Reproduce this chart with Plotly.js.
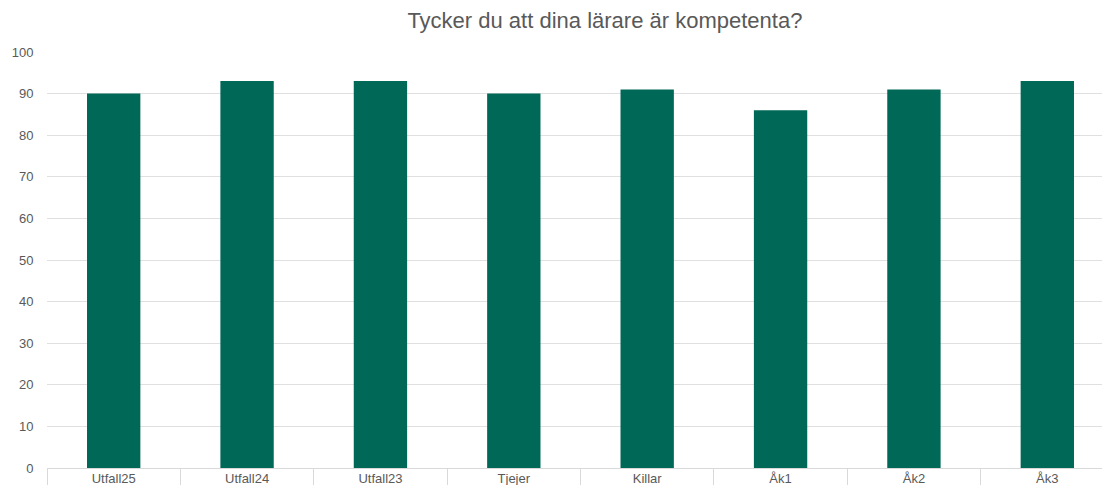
<!DOCTYPE html>
<html>
<head>
<meta charset="utf-8">
<script src="https://cdn.plot.ly/plotly-3.0.1.min.js"></script>
<style>html,body{margin:0;padding:0;background:#fff;overflow:hidden;}#chart{width:1114px;height:485px;}</style>
</head>
<body>
<div id="chart"></div>
<script>
const categories = ["Utfall25", "Utfall24", "Utfall23", "Tjejer", "Killar", "Åk1", "Åk2", "Åk3"];
const values = [90, 93, 93, 90, 91, 86, 91, 93];
const yTicks = [0, 10, 20, 30, 40, 50, 60, 70, 80, 90, 100];
const chartTitle = "Tycker du att dina lärare är kompetenta?";

const trace = {
  type: "bar",
  x: categories,
  y: values,
  marker: {color: "#006857"},
  hoverinfo: "x+y"
};

const layout = {
  width: 1114,
  height: 485,
  margin: {l: 47, r: 0, t: 52, b: 17},
  paper_bgcolor: "#ffffff",
  plot_bgcolor: "#ffffff",
  bargap: 0.6,
  showlegend: false,
  font: {family: "Liberation Sans, Arial, sans-serif", color: "#595959", size: 13},
  title: {
    text: chartTitle,
    x: 0.543, xanchor: "center",
    y: 0.958, yanchor: "middle",
    font: {size: 22, color: "#595959", family: "Liberation Sans, Arial, sans-serif"}
  },
  xaxis: {
    type: "category",
    showgrid: false,
    showline: true,
    linecolor: "#d9d9d9",
    linewidth: 1,
    ticks: "outside",
    tickson: "boundaries",
    ticklen: 17,
    tickcolor: "#d9d9d9",
    ticklabelstandoff: -2,
    tickfont: {size: 13, color: "#595959"},
    zeroline: false
  },
  yaxis: {
    range: [0, 100],
    tickvals: yTicks,
    ticktext: yTicks.map(String),
    showgrid: true,
    gridcolor: "#e0e0e0",
    gridwidth: 1,
    zeroline: false,
    showline: false,
    ticks: "outside",
    ticklen: 10,
    tickcolor: "rgba(0,0,0,0)",
    tickfont: {size: 13, color: "#595959"}
  }
};

Plotly.newPlot("chart", [trace], layout, {displayModeBar: false, staticPlot: true});
</script>
</body>
</html>
